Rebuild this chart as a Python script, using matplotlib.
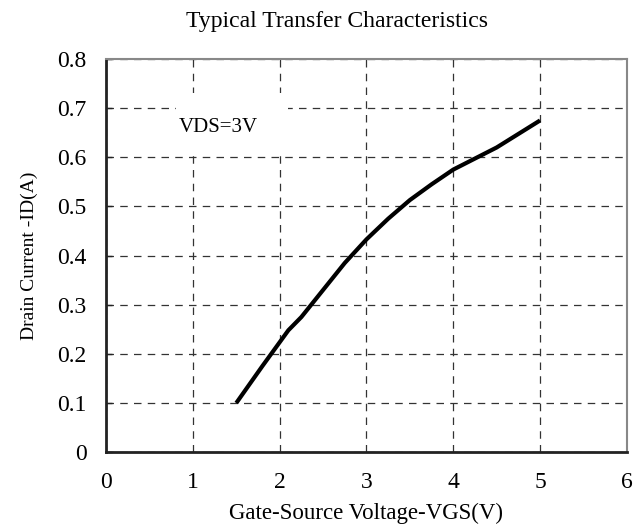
import matplotlib
matplotlib.use("Agg")
import matplotlib.pyplot as plt
from matplotlib.patches import Rectangle

# data (VDS = 3V)
vgs = [1.5, 1.8, 2.1, 2.25, 2.5, 2.75, 3.0, 3.25, 3.5, 3.75, 4.0, 4.5, 5.0]
id_a = [0.10, 0.175, 0.248, 0.275, 0.33, 0.385, 0.433, 0.475, 0.513, 0.545, 0.575, 0.62, 0.675]

x_ticks = [0, 1, 2, 3, 4, 5, 6]
y_ticks = [0, 0.1, 0.2, 0.3, 0.4, 0.5, 0.6, 0.7, 0.8]
y_labels = ["0", "0.1", "0.2", "0.3", "0.4", "0.5", "0.6", "0.7", "0.8"]

plt.rcParams['font.family'] = ['Liberation Serif', 'DejaVu Serif']

fig = plt.figure(figsize=(6.39, 5.27), dpi=100)
ax = fig.add_axes([0.166, 0.142, 0.815, 0.746])

ax.plot(vgs, id_a, color='black', linewidth=3, solid_capstyle='butt', zorder=5)

ax.set_xlim(0, 6)
ax.set_ylim(0, 0.8)
ax.set_xticks(x_ticks)
ax.set_yticks(y_ticks)
ax.set_yticklabels(y_labels)
ax.tick_params(axis='y', direction='in', length=4, width=1, labelsize=17, pad=14, colors='#222222')
ax.tick_params(axis='x', length=0, labelsize=17, pad=14, colors='#222222')
ax.tick_params(labelcolor='black')

ax.grid(True, color='#333333', linestyle=(0, (6, 5)), linewidth=0.9)
ax.set_axisbelow(True)

for side in ['left', 'bottom']:
    ax.spines[side].set_color('#222222')
    ax.spines[side].set_linewidth(2)
for side in ['top', 'right']:
    ax.spines[side].set_color('#888888')
    ax.spines[side].set_linewidth(1.5)

# white text box that hides the grid behind the label
ax.add_patch(Rectangle((0.8, 0.615), 1.3, 0.115, facecolor='white', edgecolor='none', zorder=3))
ax.text(1.29, 0.661, "VDS=3V", fontsize=15, ha='center', va='center', zorder=4)

fig.text(0.527, 0.96, "Typical Transfer Characteristics", ha='center', va='center', fontsize=17)
ax.set_xlabel("Gate-Source Voltage-VGS(V)", fontsize=16.5, labelpad=7)
ax.set_ylabel("Drain Current -ID(A)", fontsize=14, labelpad=14)

fig.savefig("out.png", dpi=100)
